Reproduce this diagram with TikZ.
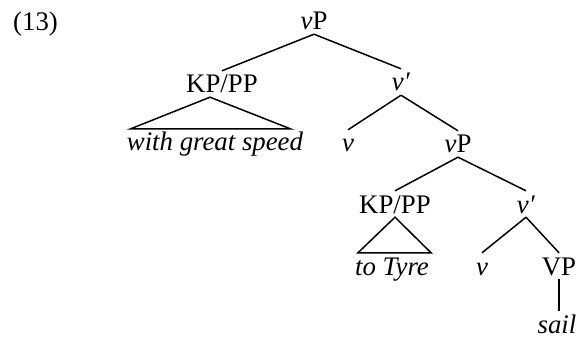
\documentclass[tikz,border=0pt]{standalone}
\usepackage{fontspec}
\setmainfont{Liberation Serif}
\usetikzlibrary{calc}
\begin{document}
\begin{tikzpicture}[x=1pt,y=-1pt,
  lab/.style={inner sep=0pt,anchor=base,text height=22pt,text depth=4pt,font=\fontsize{26.8}{30}\selectfont},
  edge/.style={line width=1.5pt}]
\useasboundingbox (0,0) rectangle (580,339);
\node[lab,anchor=base west] (ex) at (13,31) {(13)};
\node[lab] (vP) at (314,30) {\textit{v}P};
\node[lab] (KP) at (222,93) {KP/PP};
\node[lab] (speed) at (215,151) {\textit{with great speed}};
\node[lab] (vbar) at (401,91) {\textit{v′}};
\node[lab] (v) at (348,152) {\textit{v}};
\node[lab] (vP2) at (458,153) {\textit{v}P};
\node[lab] (KP2) at (395,213) {KP/PP};
\node[lab] (tyre) at (392,275) {\textit{to Tyre}};
\node[lab] (vbar2) at (526,213) {\textit{v′}};
\node[lab] (v2) at (482,275) {\textit{v}};
\node[lab] (VP) at (559,275) {VP};
\node[lab,text depth=0pt] (sail) at (557,333) {\textit{sail}};
\draw[edge] (vP.south) -- (KP.north);
\draw[edge] (vP.south) -- (vbar.north);
\draw[edge] ($(KP.south)+(-12,0)$) -- ($(speed.north west)+(4,0)$) -- ($(speed.north east)+(-13,0)$) -- cycle;
\draw[edge] (vbar.south) -- (v.north);
\draw[edge] (vbar.south) -- (vP2.north);
\draw[edge] (vP2.south) -- (KP2.north);
\draw[edge] (vP2.south) -- (vbar2.north);
\draw[edge] (KP2.south) -- ($(tyre.north west)+(3,0)$) -- ($(tyre.north east)+(2,0)$) -- cycle;
\draw[edge] (vbar2.south) -- (v2.north);
\draw[edge] (vbar2.south) -- (VP.north);
\draw[edge] (VP.south) -- (VP.south |- sail.north);
\end{tikzpicture}
\end{document}
